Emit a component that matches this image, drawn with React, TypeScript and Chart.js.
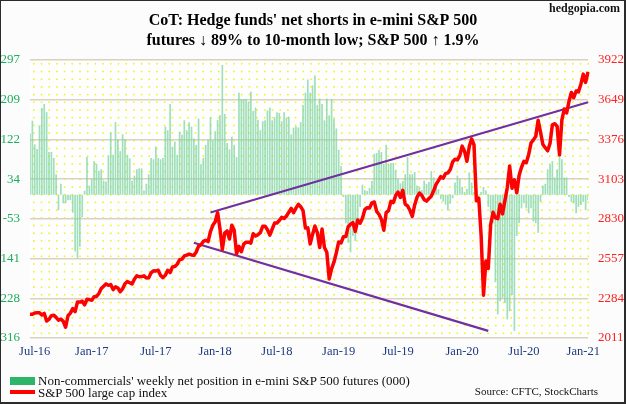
import React, { useEffect, useRef } from "react";
import { Chart, registerables } from "chart.js";

Chart.register(...registerables);

// ---------- data ----------
const START_DATE = "2016-07-22"; // first weekly observation (Friday)

// S&P 500 weekly close
const spx: number[] = [
  // 2016
  2175, 2174, 2183, 2184, 2184, 2169, 2180, 2128, 2139, 2165, 2168, 2153, 2133, 2141, 2126, 2085, 2164, 2182, 2213, 2192, 2259, 2258, 2264, 2239,
  // 2017
  2277, 2275, 2271, 2295, 2297, 2316, 2351, 2367, 2383, 2373, 2378, 2344, 2363, 2355, 2329, 2349, 2384, 2399, 2391, 2382, 2416, 2439, 2432, 2433, 2438, 2423,
  2425, 2459, 2473, 2472, 2477, 2441, 2426, 2443, 2477, 2461, 2500, 2502, 2519, 2549, 2553, 2575, 2581, 2588, 2582, 2579, 2602, 2642, 2652, 2675, 2683, 2674,
  // 2018
  2743, 2786, 2810, 2873, 2762, 2620, 2732, 2747, 2691, 2786, 2752, 2588, 2641, 2604, 2656, 2670, 2670, 2663, 2728, 2712, 2721, 2735, 2779, 2780, 2755, 2718,
  2760, 2801, 2802, 2819, 2840, 2833, 2850, 2875, 2902, 2872, 2904, 2930, 2914, 2886, 2767, 2768, 2658, 2723, 2781, 2736, 2633, 2760, 2633, 2600, 2417, 2486,
  // 2019
  2532, 2596, 2671, 2665, 2707, 2708, 2776, 2793, 2804, 2743, 2822, 2800, 2834, 2893, 2907, 2905, 2940, 2946, 2881, 2860, 2826, 2752, 2873, 2887, 2950, 2942,
  2990, 3014, 2977, 3026, 2932, 2919, 2889, 2847, 2926, 2979, 3007, 2992, 2962, 2952, 2970, 2986, 3023, 3067, 3093, 3120, 3110, 3141, 3146, 3169, 3221, 3240,
  // 2020
  3235, 3265, 3330, 3295, 3226, 3328, 3380, 3338, 2954, 2972, 2711, 2305, 2541, 2489, 2790, 2875, 2837, 2831, 2930, 2864, 2955, 3044, 3194, 3041, 3098, 3009,
  3130, 3185, 3225, 3216, 3271, 3351, 3373, 3397, 3508, 3427, 3341, 3319, 3298, 3348, 3477, 3484, 3465, 3270, 3510, 3585, 3558, 3638, 3699, 3663, 3709, 3703, 3756,
  // 2021
  3825, 3768, 3841,
];

// Non-commercials' weekly net position, e-mini S&P 500 futures (000)
const netPosition: number[] = [
  135, 163, 111, 101, 153, 191, 200, 182, 94, 94,
  81, 45, -34, 24, -19, -19, -12, -12, -40, -125,
  -140, -115, -50, 9, 83, 20, 35, 74, 68, 53,
  56, 31, 29, 87, 137, 88, 160, 122, 96, 133,
  122, 88, 80, 31, 42, 56, 58, 58, 9, 24,
  45, 81, 78, 106, 81, 78, 81, 150, 142, 200,
  106, 117, 88, 139, 132, 164, 142, 160, 150, 124,
  110, 168, 67, 81, 110, 121, 171, 120, 140, 165,
  175, 286, 178, 114, 100, 128, 110, 83, 225, 211,
  211, 211, 205, 227, 185, 192, 165, 142, 162, 164,
  186, 192, 164, 171, 182, 180, 162, 182, 170, 172,
  133, 148, 151, 148, 160, 198, 225, 254, 225, 241,
  263, 198, 212, 200, 164, 212, 175, 211, 168, 146,
  99, 63, -5, -63, -106, -127, -91, -102, -63, -27,
  22, 10, 8, 15, 30, 90, 92, 99, 94, 68,
  110, 67, 70, 70, 55, 35, 25, 30, 45, 83,
  45, 45, 50, 20, 17, 10, 31, 24, 28, 52,
  38, 24, 12, -10, -15, -22, -35, -20, -8, 27,
  42, 35, 17, 6, 13, 49, 27, 6, 2, -2,
  6, 17, 9, -27, -41, -63, -193, -264, -235, -228,
  -239, -275, -257, -221, -300, -91, -63, -30, -19, -30,
  -41, -30, -59, -63, -84, -16, 20, 24, 56, 67,
  74, 38, 56, 85, 78, 38, 38, -5, -16, -19,
  -41, -27, -23, -16, -34, -12,
];

// trend lines (S&P 500 axis units, week index)
const upperTrendIdx = [76, 235];
const upperTrendVal = [2874, 3632];
const lowerTrendIdx = [69, 193];
const lowerTrendVal = [2666, 2060];

// axes
const leftMin = -316;
const leftMax = 297;
const leftTickLabels = ["-316", "-228", "-141", "-53", "34", "122", "209", "297"];
const rightTicks = [2011, 2284, 2557, 2830, 3103, 3376, 3649, 3922];
const xTickLabels = ["Jul-16", "Jan-17", "Jul-17", "Jan-18", "Jul-18", "Jan-19", "Jul-19", "Jan-20", "Jul-20", "Jan-21"];
const xTickIdx = [2, 26, 53, 78, 104, 130, 155, 182, 208, 233];

const titleLines = [
  "CoT: Hedge funds' net shorts in e-mini S&P 500",
  "futures \u2193 89% to 10-month low; S&P 500 \u2191 1.9%",
];
const legendBars = "Non-commercials' weekly net position in e-mini S&P 500 futures (000)";
const legendLine = "S&P 500 large cap index";
const sourceText = "Source: CFTC, StockCharts";
const brandText = "hedgopia.com";

const SERIF = "'Liberation Serif', 'DejaVu Serif', serif";

function weeklyLabels(start: string, n: number): string[] {
  const out: string[] = [];
  const t0 = new Date(start + "T00:00:00Z").getTime();
  for (let i = 0; i < n; i++) {
    out.push(new Date(t0 + i * 7 * 86400000).toISOString().slice(0, 10));
  }
  return out;
}

function sparse(n: number, idx: number[], vals: number[]): (number | null)[] {
  const arr: (number | null)[] = new Array(n).fill(null);
  idx.forEach((k, j) => (arr[k] = vals[j]));
  return arr;
}

const dotsPlugin = {
  id: "dotsBg",
  beforeDraw(chart: any) {
    const { ctx, chartArea: a, width, height } = chart;
    ctx.save();
    ctx.fillStyle = "#fcfcfd";
    ctx.fillRect(0, 0, width, height);
    ctx.fillStyle = "#ffffff";
    ctx.fillRect(a.left, a.top, a.right - a.left, a.bottom - a.top);
    ctx.fillStyle = "rgb(248,238,40)";
    const step = 7.7;
    for (let y = a.top + 3; y < a.bottom; y += step) {
      for (let x = a.left + 3; x < a.right; x += step) {
        ctx.fillRect(x, y, 1.6, 1.6);
      }
    }
    ctx.restore();
  },
};

export default function App() {
  const ref = useRef<HTMLCanvasElement | null>(null);

  useEffect(() => {
    document.body.style.margin = "0";
    const n = spx.length;
    const labels = weeklyLabels(START_DATE, n);
    const chart = new Chart(ref.current as HTMLCanvasElement, {
      data: {
        labels,
        datasets: [
          {
            type: "line",
            label: legendLine,
            data: spx,
            yAxisID: "y1",
            borderColor: "#ff0000",
            borderWidth: 3.5,
            pointRadius: 0,
            tension: 0,
            borderJoinStyle: "round",
            order: 1,
          } as any,
          {
            type: "line",
            label: "upper trend",
            data: sparse(n, upperTrendIdx, upperTrendVal),
            yAxisID: "y1",
            borderColor: "#7030a0",
            borderWidth: 2.2,
            pointRadius: 0,
            spanGaps: true,
            order: 2,
          } as any,
          {
            type: "line",
            label: "lower trend",
            data: sparse(n, lowerTrendIdx, lowerTrendVal),
            yAxisID: "y1",
            borderColor: "#7030a0",
            borderWidth: 2.2,
            pointRadius: 0,
            spanGaps: true,
            order: 2,
          } as any,
          {
            type: "bar",
            label: legendBars,
            data: netPosition,
            yAxisID: "y",
            backgroundColor: "rgba(128,212,164,0.75)",
            borderWidth: 0,
            barPercentage: 0.72,
            categoryPercentage: 1,
            order: 3,
          } as any,
        ],
      },
      options: {
        animation: false,
        responsive: false,
        maintainAspectRatio: false,
        layout: { padding: { top: 0, left: 0, right: 0, bottom: 39 } },
        plugins: {
          legend: { display: false },
          tooltip: { enabled: false },
          title: {
            display: true,
            text: titleLines,
            color: "#000",
            font: { family: SERIF, size: 16, weight: "bold", lineHeight: 1.25 },
            padding: { top: 11, bottom: 9 },
          },
        },
        scales: {
          x: {
            type: "category",
            offset: false,
            grid: { display: false, drawTicks: false },
            border: { display: false },
            afterBuildTicks: (s: any) => {
              s.ticks = xTickIdx.map((v) => ({ value: v }));
            },
            ticks: {
              autoSkip: false,
              maxRotation: 0,
              minRotation: 0,
              padding: 6,
              color: "#1f3b80",
              font: { family: SERIF, size: 12.5 },
              callback: (_v: any, i: number) => xTickLabels[i],
            },
          },
          y: {
            position: "left",
            min: leftMin,
            max: leftMax,
            afterBuildTicks: (s: any) => {
              s.ticks = leftTickLabels.map((_l, i) => ({
                value: leftMin + (i * (leftMax - leftMin)) / (leftTickLabels.length - 1),
              }));
            },
            afterFit: (s: any) => {
              s.width = 30;
            },
            grid: { color: "#d9d2c2", lineWidth: 1.5, drawTicks: false },
            border: { display: false },
            ticks: {
              padding: 10,
              color: "#1fae5c",
              font: { family: SERIF, size: 13 },
              callback: (_v: any, i: number) => leftTickLabels[i],
            },
          },
          y1: {
            position: "right",
            min: rightTicks[0],
            max: rightTicks[rightTicks.length - 1],
            afterBuildTicks: (s: any) => {
              s.ticks = rightTicks.map((v) => ({ value: v }));
            },
            afterFit: (s: any) => {
              s.width = 38;
            },
            grid: { display: false, drawTicks: false },
            border: { display: false },
            ticks: {
              padding: 10,
              color: "#ff2020",
              font: { family: SERIF, size: 13 },
              callback: (v: any) => String(v),
            },
          },
        },
      } as any,
      plugins: [dotsPlugin],
    });
    return () => chart.destroy();
  }, []);

  const txt: React.CSSProperties = {
    position: "absolute",
    fontFamily: SERIF,
    color: "#111",
    whiteSpace: "nowrap",
  };

  return (
    <div style={{ position: "relative", width: 626, height: 404, overflow: "hidden", background: "#fcfcfd" }}>
      <canvas ref={ref} width={626} height={404} style={{ position: "absolute", left: 0, top: 0, width: 626, height: 404 }} />
      <div style={{ ...txt, right: 6, top: 1, fontSize: 12, fontWeight: "bold", lineHeight: "14px" }}>{brandText}</div>
      <div style={{ position: "absolute", left: 10, top: 377, width: 25, height: 8, background: "#2db56a" }} />
      <div style={{ ...txt, left: 38, top: 373, fontSize: 13, lineHeight: "15px" }}>{legendBars}</div>
      <div style={{ position: "absolute", left: 10, top: 390, width: 25, height: 3.5, background: "#ff0000" }} />
      <div style={{ ...txt, left: 38, top: 385, fontSize: 13, lineHeight: "15px" }}>{legendLine}</div>
      <div style={{ ...txt, right: 28, top: 385, fontSize: 11, lineHeight: "13px" }}>{sourceText}</div>
      <div
        style={{
          position: "absolute",
          inset: 0,
          borderStyle: "solid",
          borderColor: "#2b2b2b",
          borderWidth: "1px 2px 2px 1px",
          pointerEvents: "none",
        }}
      />
    </div>
  );
}
